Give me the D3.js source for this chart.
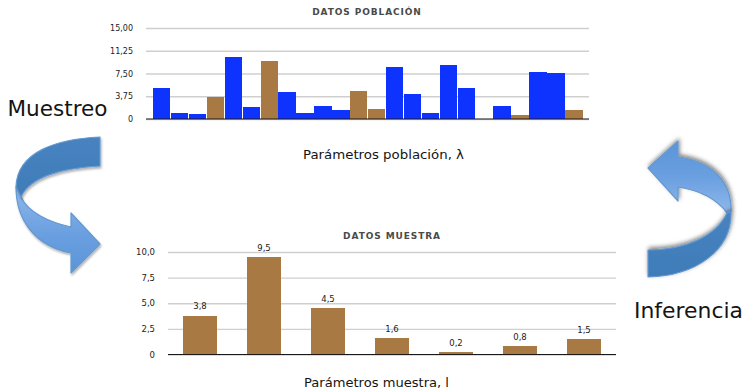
<!DOCTYPE html>
<html>
<head>
<meta charset="utf-8">
<script src="https://cdn.jsdelivr.net/npm/d3@7"></script>
<style>
html,body{margin:0;padding:0;background:#fff}
svg{display:block}
text{font-family:"DejaVu Sans",sans-serif}
</style>
</head>
<body>
<div id="chart"></div>
<script>
// Population parameters: one value per unit; "sampled" marks the ones drawn into the sample
const populationValues = [5.13,1.0,0.83,3.7,10.26,2.0,9.6,4.47,1.0,2.15,1.5,4.63,1.65,8.6,4.14,1.0,8.93,5.13,0,2.15,0.66,7.78,7.6,1.5];
const populationSampled = [0,0,0,1,0,0,1,0,0,0,0,1,1,0,0,0,0,0,0,0,1,0,0,1];
const populationTicks = [0,3.75,7.5,11.25,15];
const populationTickLabels = ["0","3,75","7,50","11,25","15,00"];

// Sample parameters
const sampleValues = [3.8,9.5,4.5,1.6,0.2,0.8,1.5];
const sampleLabels = ["3,8","9,5","4,5","1,6","0,2","0,8","1,5"];
const sampleTicks = [0,2.5,5,7.5,10];
const sampleTickLabels = ["0","2,5","5,0","7,5","10,0"];

const BLUE = "#0f33ff", BROWN = "#a87942", GRID = "#cfcfcf";

const svg = d3.select("#chart").append("svg").attr("width",745).attr("height",389);
const defs = svg.append("defs");

function vGrad(id, stops){
  const g = defs.append("linearGradient").attr("id",id).attr("x1",0).attr("y1",0).attr("x2",0).attr("y2",1);
  stops.forEach(([o,c])=>g.append("stop").attr("offset",o).attr("stop-color",c));
}
vGrad("armLight",[[0,"#8fb8ec"],[0.55,"#6a9fe0"],[1,"#5a95d8"]]);
vGrad("armLightUp",[[0,"#5a95d8"],[0.5,"#6a9fe0"],[1,"#8fb8ec"]]);
vGrad("armDark",[[0,"#4783c0"],[1,"#3f7cb8"]]);

const shadow = defs.append("filter").attr("id","soft").attr("x","-30%").attr("y","-30%").attr("width","160%").attr("height","160%");
shadow.append("feDropShadow").attr("dx",1).attr("dy",-2).attr("stdDeviation",2).attr("flood-color","#000").attr("flood-opacity",0.5);
const shadowDown = defs.append("filter").attr("id","softDown").attr("x","-30%").attr("y","-30%").attr("width","160%").attr("height","160%");
shadowDown.append("feDropShadow").attr("dx",1).attr("dy",2).attr("stdDeviation",1.2).attr("flood-color","#000").attr("flood-opacity",0.3);

// Shared bar chart frame: gridlines, y axis, baseline, title
function frame(cfg){
  const y = d3.scaleLinear().domain(cfg.domain).range([cfg.bottom,cfg.top]);
  const axis = d3.axisLeft(y).tickValues(cfg.ticks).tickSize(0).tickPadding(cfg.pad)
    .tickFormat((d,i)=>cfg.tickLabels[i]);
  const g = svg.append("g").attr("transform",`translate(${cfg.left},0)`).call(axis);
  g.select(".domain").remove();
  g.selectAll("text").attr("font-size",cfg.tickSize).attr("fill","#222");
  g.selectAll("line").attr("x2",cfg.right-cfg.left).attr("stroke",GRID).attr("stroke-width",1.4);
  svg.append("text").attr("x",cfg.titleX).attr("y",cfg.titleY).attr("text-anchor","middle")
    .attr("font-size",9).attr("font-weight","bold").attr("letter-spacing",0.9)
    .attr("fill","#4a4a4a").text(cfg.title);
  return y;
}
function baseline(y,cfg){
  svg.append("line").attr("x1",cfg.left).attr("x2",cfg.right)
    .attr("y1",y(0)).attr("y2",y(0)).attr("stroke","#1a1a1a").attr("stroke-width",1);
}

// Population chart
const popCfg = {left:146,right:589,top:28,bottom:119,domain:[0,15],ticks:populationTicks,
  tickLabels:populationTickLabels,tickSize:8,pad:13,title:"DATOS POBLACIÓN",titleX:367,titleY:14.5};
const yPop = frame(popCfg);
const xPop = d3.scaleBand().domain(d3.range(populationValues.length)).range([153,582.5]).paddingInner(0.03);
svg.append("g").attr("shape-rendering","crispEdges").selectAll("rect").data(populationValues).join("rect")
  .attr("x",(d,i)=>xPop(i)).attr("width",xPop.bandwidth())
  .attr("y",d=>yPop(d)).attr("height",d=>yPop(0)-yPop(d))
  .attr("fill",(d,i)=>populationSampled[i]?BROWN:BLUE);
baseline(yPop,popCfg);

// Sample chart
const smpCfg = {left:168,right:616,top:252,bottom:354.5,domain:[0,10],ticks:sampleTicks,
  tickLabels:sampleTickLabels,tickSize:8.5,pad:13,title:"DATOS MUESTRA",titleX:392,titleY:238.5};
const ySmp = frame(smpCfg);
const xSmp = d3.scaleBand().domain(d3.range(sampleValues.length)).range([168,616]).paddingInner(0.484).paddingOuter(0.242);
svg.append("g").attr("shape-rendering","crispEdges").selectAll("rect").data(sampleValues).join("rect")
  .attr("x",(d,i)=>xSmp(i)).attr("width",xSmp.bandwidth())
  .attr("y",d=>ySmp(d)).attr("height",d=>ySmp(0)-ySmp(d)).attr("fill",BROWN);
baseline(ySmp,smpCfg);
svg.append("g").selectAll("text").data(sampleValues).join("text")
  .attr("x",(d,i)=>xSmp(i)+xSmp.bandwidth()/2).attr("y",d=>ySmp(d)-6.5)
  .attr("text-anchor","middle").attr("font-size",8.5).attr("fill","#222")
  .text((d,i)=>sampleLabels[i]);

// Axis captions and side labels
const captions = [
  {t:"Parámetros población, λ",x:303,y:159,s:13,w:161},
  {t:"Parámetros muestra, l",x:304,y:387,s:13,w:145},
  {t:"Muestreo",x:7.5,y:116,s:22,w:100},
  {t:"Inferencia",x:634,y:318,s:21.5,w:109}
];
svg.append("g").selectAll("text").data(captions).join("text")
  .attr("x",d=>d.x).attr("y",d=>d.y).attr("font-size",d=>d.s)
  .attr("textLength",d=>d.w).attr("lengthAdjust","spacingAndGlyphs")
  .attr("fill","#141414").text(d=>d.t);

// Curved ribbon arrows between the two charts
const left = svg.append("g").attr("stroke","#6598cf").attr("stroke-width",1.2).attr("stroke-linejoin","round");
left.append("path").attr("fill","url(#armLight)").attr("filter","url(#softDown)")
  .attr("d","M16,187 C16,220 35,246 71,253 L71,273 L100,244 L71,213 L71,227 C48,222 28,212 21,197 Z");
left.append("path").attr("fill","url(#armDark)").attr("filter","url(#softDown)")
  .attr("d","M100,137 C56,139 17,152 16,187 L21,197 C30,177 62,168 100,166 Z");

const right = svg.append("g").attr("stroke","#6598cf").attr("stroke-width",1.2).attr("stroke-linejoin","round");
right.append("path").attr("fill","url(#armLightUp)").attr("filter","url(#soft)")
  .attr("d","M731,212 C732,182 712,161 678,157 L678,141 L648,168 L678,201 L678,187 C700,190 718,200 727,213 Z");
right.append("path").attr("fill","url(#armDark)").attr("filter","url(#soft)")
  .attr("d","M648,250 C686,250 716,236 727,213 L731,212 C732,250 696,276 648,277 Z");
</script>
</body>
</html>
